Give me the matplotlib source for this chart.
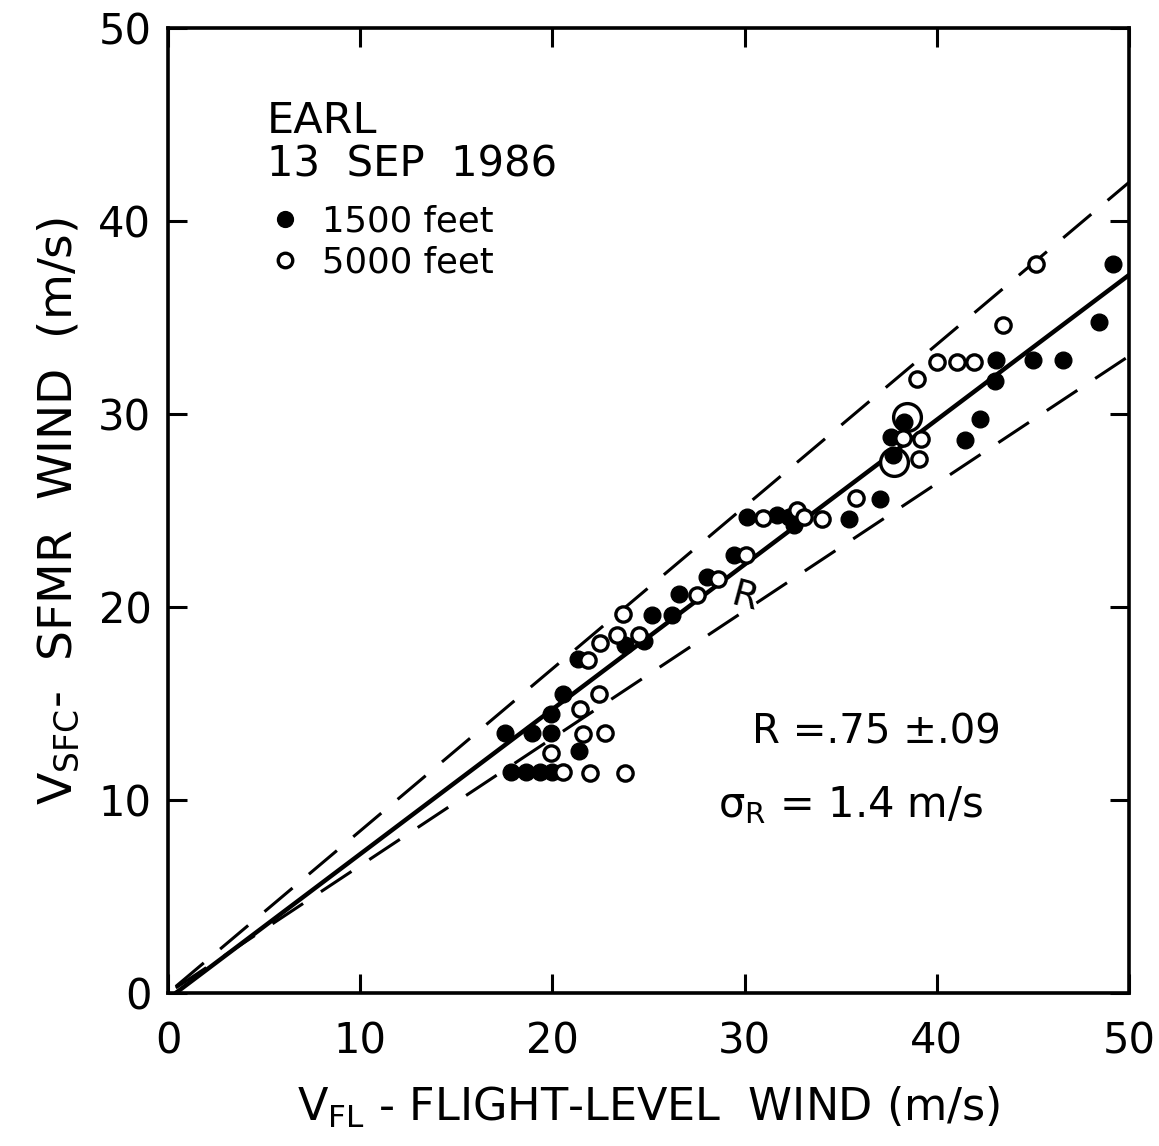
import numpy as np
import matplotlib
matplotlib.use("Agg")
import matplotlib.pyplot as plt

plt.rcParams['font.family'] = ['DejaVu Sans']
plt.rcParams['mathtext.default'] = 'regular'

# 1500 feet (filled)
x1500 = [17.55, 18.94, 19.93, 19.95, 20.56, 21.32, 17.85, 18.65, 19.34, 19.98,
         21.37, 23.8, 24.76, 25.19, 26.2, 26.6, 28.06, 29.44, 30.14, 31.7,
         32.3, 32.55, 35.43, 37.05, 37.6, 37.7, 38.3, 43.07, 45.03, 46.55,
         43.02, 42.26, 41.46, 48.45, 49.2]
y1500 = [13.49, 13.49, 13.49, 14.47, 15.5, 17.31, 11.46, 11.46, 11.46, 11.46,
         12.55, 18.05, 18.22, 19.6, 19.6, 20.65, 21.58, 22.7, 24.68, 24.76,
         24.68, 24.26, 24.56, 25.62, 28.8, 27.9, 29.6, 32.8, 32.8, 32.8,
         31.73, 29.75, 28.64, 34.78, 37.8]

# 5000 feet (open)
x5000 = [20.56, 19.95, 21.84, 21.6, 22.72, 21.46, 22.45, 21.94, 23.76, 22.5,
         23.37, 24.5, 23.7, 27.53, 28.6, 30.05, 30.97, 32.75, 33.07, 34.05,
         35.78, 38.26, 39.17, 39.08, 39.0, 40.0, 41.07, 41.94, 43.47, 45.16]
y5000 = [11.46, 12.46, 17.23, 13.44, 13.49, 14.73, 15.5, 11.42, 11.42, 18.14,
         18.57, 18.57, 19.65, 20.6, 21.44, 22.7, 24.59, 25.02, 24.68, 24.56,
         25.66, 28.75, 28.72, 27.69, 31.8, 32.7, 32.7, 32.7, 34.6, 37.75]

# circled (overlapping) points
xbig = [38.47, 37.78]
ybig = [29.84, 27.5]

R = 0.75
dR = 0.09
xline = np.array([0.4, 50.0])

fig = plt.figure(figsize=(11.59, 11.46), dpi=100)
ax = fig.add_axes([0.145, 0.1335, 0.829, 0.842])

ax.plot(xline, R * xline - 0.3, color='black', lw=3.2, solid_capstyle='round', zorder=2)
ax.plot(xline, (R + dR) * xline, color='black', lw=2.2, dashes=(12, 7), zorder=2)
ax.plot(xline, (R - dR) * xline, color='black', lw=2.2, dashes=(12, 7), zorder=2)

ax.plot(xbig, ybig, 'o', ms=20, mfc='white', mec='black', mew=2.4, ls='none', zorder=3)
h1, = ax.plot(x1500, y1500, 'o', ms=12, mfc='black', mec='black', ls='none', zorder=4,
              label='1500 feet')
h2, = ax.plot(x5000, y5000, 'o', ms=11, mfc='white', mec='black', mew=2.4, ls='none', zorder=5,
              label='5000 feet')

ax.set_xlim(0, 50)
ax.set_ylim(0, 50)
ax.set_xticks([0, 10, 20, 30, 40, 50])
ax.set_yticks([0, 10, 20, 30, 40, 50])
ax.tick_params(direction='in', length=14, width=2.2, labelsize=30, top=True, right=True,
               pad=12)
ax.tick_params(axis='x', pad=20)
for s in ax.spines.values():
    s.set_linewidth(2.6)

ax.set_xlabel(r'V$_{FL}$ - FLIGHT-LEVEL  WIND (m/s)', fontsize=32, labelpad=16)
ax.set_ylabel(r'V$_{SFC}$-  SFMR  WIND  (m/s)', fontsize=34, labelpad=12)

ax.text(5.15, 44.55, 'EARL', fontsize=31, ha='left', va='baseline')
ax.text(5.15, 42.3, '13  SEP  1986', fontsize=30, ha='left', va='baseline')
leg = ax.legend(handles=[h1, h2], loc='upper left', bbox_to_anchor=(0.092, 0.836),
                frameon=False, fontsize=25.5, handlelength=0.6, handletextpad=0.75,
                labelspacing=0.22, borderpad=0, markerscale=0.95)

ax.text(30.0, 20.5, 'R', fontsize=27, rotation=-15, ha='center', va='center')
ax.text(30.4, 12.95, 'R =.75 \u00b1.09', fontsize=29, ha='left', va='baseline')
ax.text(28.6, 9.1, r'$\sigma_R$ = 1.4 m/s', fontsize=30, ha='left', va='baseline')

fig.savefig('out.png', dpi=100)
